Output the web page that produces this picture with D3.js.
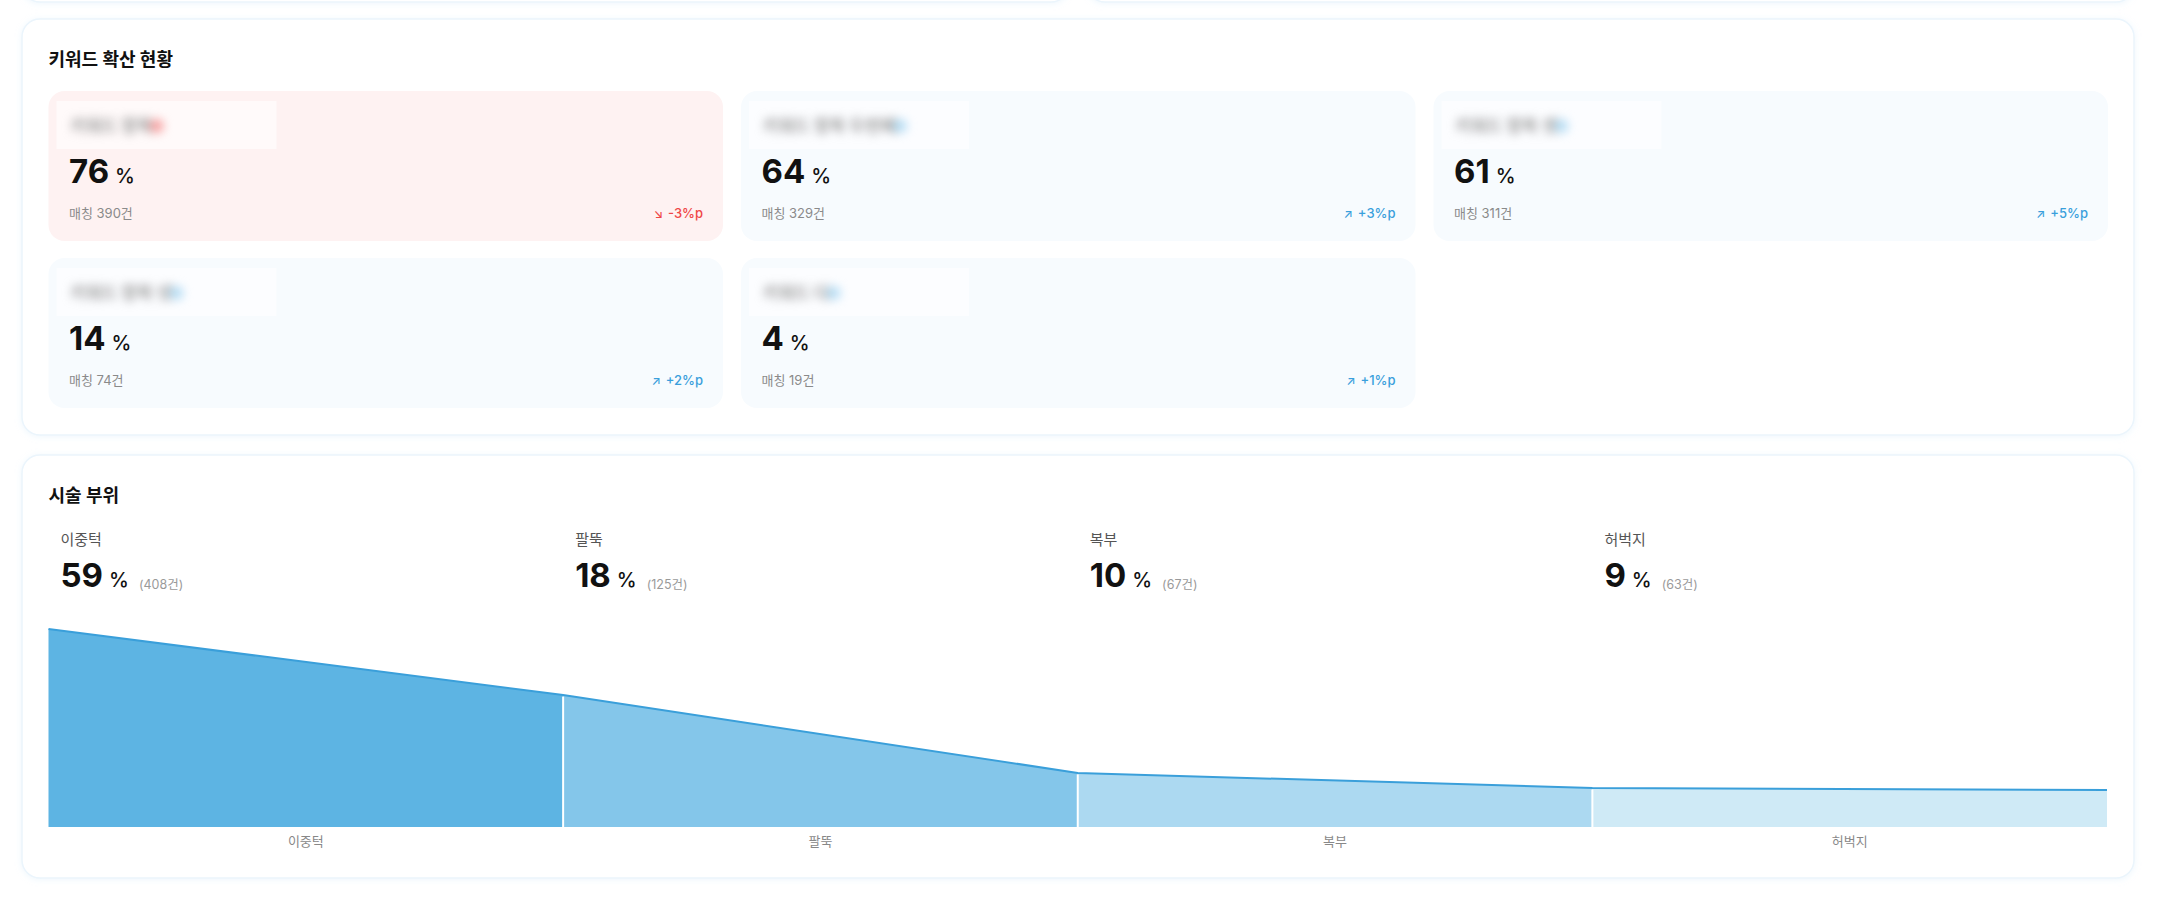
<!DOCTYPE html>
<html lang="ko">
<head>
  <meta charset="UTF-8">
  <title>키워드 확산 현황 / 시술 부위</title>
  <script src="https://d3js.org/d3.v7.min.js"></script>
  <style>
    html, body {
      margin: 0;
      padding: 0;
      background: #ffffff;
    }
    svg {
      display: block;
      font-family: Inter, "Noto Sans CJK KR", sans-serif;
    }
    .redacted {
      filter: blur(5px);
    }
  </style>
</head>
<body>
  <script>
    // keyword cards
    const keywordNames = ["키워드 항목", "키워드 항목 두번째", "키워드 항목 셋", "키워드 항목 넷", "키워드 다"];
    const keywordRates = [76, 64, 61, 14, 4];
    const keywordMatches = [390, 329, 311, 74, 19];
    const keywordDeltas = [-3, 3, 5, 2, 1];

    // treatment areas
    const areaNames = ["이중턱", "팔뚝", "복부", "허벅지"];
    const areaShares = [59, 18, 10, 9];
    const areaCounts = [408, 125, 67, 63];
    // height of the flow at each segment edge (same unit as the share)
    const flowLevels = [59, 39.3, 16.1, 11.6, 11.0];

    const areaFills = ["#5db4e3", "#84c6ea", "#acd9f1", "#cfeaf6"];
    const lineColor = "#3a9fda";
    const upColor = "#3a9fdc";
    const downColor = "#ef4747";

    const svg = d3.select("body").append("svg")
      .attr("width", 2160)
      .attr("height", 908);

    const defs = svg.append("defs");
    const shadow = defs.append("filter").attr("id", "shadow")
      .attr("x", "-5%").attr("y", "-10%").attr("width", "110%").attr("height", "120%");
    shadow.append("feDropShadow")
      .attr("dx", 0).attr("dy", 1).attr("stdDeviation", 3)
      .attr("flood-color", "#c4e2f7").attr("flood-opacity", 0.3);

    function panel(x, y, w, h) {
      svg.append("rect")
        .attr("x", x).attr("y", y)
        .attr("width", w).attr("height", h)
        .attr("rx", 18)
        .attr("fill", "#ffffff")
        .attr("stroke", "#ebf5fc")
        .attr("stroke-width", 1.5)
        .attr("filter", "url(#shadow)");
    }

    // bottoms of the panels above
    panel(22, -100, 1047, 102);
    panel(1087, -100, 1047, 102);

    // ---- 키워드 확산 현황 ----
    panel(22, 19, 2112, 416);
    svg.append("text")
      .attr("x", 48.5).attr("y", 66)
      .attr("font-size", 18).attr("font-weight", 700).attr("fill", "#111")
      .text("키워드 확산 현황");

    const cardW = 674.5, cardH = 150, gapX = 18, gapY = 17;
    const cardData = keywordRates.map((rate, i) => ({
      name: keywordNames[i],
      rate: rate,
      matches: keywordMatches[i],
      delta: keywordDeltas[i],
      x: 48.5 + (i % 3) * (cardW + gapX),
      y: 91 + Math.floor(i / 3) * (cardH + gapY)
    }));

    const cards = svg.selectAll(".kw-card")
      .data(cardData)
      .enter()
      .append("g")
      .attr("class", "kw-card")
      .attr("transform", d => `translate(${d.x},${d.y})`);

    cards.append("rect")
      .attr("width", cardW).attr("height", cardH)
      .attr("rx", 16)
      .attr("fill", (d, i) => i === 0 ? "#fef2f2" : "#f7fbfe");

    // redacted keyword label
    cards.append("rect")
      .attr("x", 8).attr("y", 10)
      .attr("width", 220).attr("height", 48)
      .attr("fill", "#ffffff").attr("opacity", 0.6);

    const blurred = cards.append("g").attr("class", "redacted");
    blurred.append("text")
      .attr("x", 22).attr("y", 41)
      .attr("font-size", 17).attr("font-weight", 700).attr("fill", "#9a9a9a")
      .text(d => d.name);
    blurred.append("circle")
      .attr("cx", function () { return 22 + this.parentNode.querySelector("text").getComputedTextLength() + 4; })
      .attr("cy", 35).attr("r", 7)
      .attr("fill", d => d.delta < 0 ? "#f7a3a3" : "#b8def5");

    const rateText = cards.append("text")
      .attr("x", 20.5).attr("y", 92)
      .attr("fill", "#111");
    rateText.append("tspan")
      .attr("font-size", 33).attr("font-weight", 700)
      .text(d => d.rate);
    rateText.append("tspan")
      .attr("dx", 6)
      .attr("font-size", 20).attr("font-weight", 500)
      .text("%");

    cards.append("text")
      .attr("x", 20.5).attr("y", 127)
      .attr("font-size", 13).attr("fill", "#8a8a8a")
      .text(d => `매칭 ${d.matches}건`);

    const deltaText = cards.append("text")
      .attr("x", cardW - 20).attr("y", 127)
      .attr("text-anchor", "end")
      .attr("font-size", 13).attr("font-weight", 500)
      .attr("fill", d => d.delta < 0 ? downColor : upColor);
    deltaText.append("tspan")
      .attr("font-size", 12)
      .text(d => d.delta < 0 ? "↘" : "↗");
    deltaText.append("tspan")
      .attr("dx", 5)
      .text(d => `${d.delta < 0 ? "-" : "+"}${Math.abs(d.delta)}%p`);

    // ---- 시술 부위 ----
    panel(22, 455, 2112, 423);
    svg.append("text")
      .attr("x", 48.5).attr("y", 502)
      .attr("font-size", 18).attr("font-weight", 700).attr("fill", "#111")
      .text("시술 부위");

    const chartLeft = 48.5, chartRight = 2107, chartBottom = 827;
    const band = d3.scaleBand().domain(areaNames).range([chartLeft, chartRight]);
    const x = d3.scaleLinear().domain([0, areaNames.length]).range([chartLeft, chartRight]);
    const y = d3.scaleLinear().domain([0, 60]).range([chartBottom, chartBottom - 201.4]);

    const heads = svg.selectAll(".area-head")
      .data(areaNames)
      .enter()
      .append("g")
      .attr("class", "area-head")
      .attr("transform", d => `translate(${band(d) + 12},0)`);

    heads.append("text")
      .attr("y", 545)
      .attr("font-size", 15).attr("fill", "#555")
      .text(d => d);

    const shareText = heads.append("text")
      .attr("y", 587)
      .attr("fill", "#111");
    shareText.append("tspan")
      .attr("font-size", 33).attr("font-weight", 700)
      .text((d, i) => areaShares[i]);
    shareText.append("tspan")
      .attr("dx", 6)
      .attr("font-size", 20).attr("font-weight", 500)
      .text("%");
    shareText.append("tspan")
      .attr("dx", 10)
      .attr("dy", 2)
      .attr("font-size", 12.5).attr("fill", "#9a9a9a")
      .text((d, i) => `(${areaCounts[i]}건)`);

    const area = d3.area()
      .x(d => x(d))
      .y0(y(0))
      .y1(d => y(flowLevels[d]));

    svg.selectAll(".segment")
      .data(areaNames.map((d, i) => [i, i + 1]))
      .enter()
      .append("path")
      .attr("class", "segment")
      .attr("d", area)
      .attr("fill", (d, i) => areaFills[i]);

    svg.selectAll(".divider")
      .data(d3.range(1, areaNames.length))
      .enter()
      .append("line")
      .attr("class", "divider")
      .attr("x1", d => x(d)).attr("x2", d => x(d))
      .attr("y1", y(0)).attr("y2", d => y(flowLevels[d]) + 1.5)
      .attr("stroke", "#ffffff").attr("stroke-width", 2);

    svg.append("path")
      .datum(flowLevels)
      .attr("d", d3.line().x((d, i) => x(i)).y(d => y(d)))
      .attr("fill", "none")
      .attr("stroke", lineColor)
      .attr("stroke-width", 2);

    const axis = svg.append("g")
      .attr("transform", `translate(0,${chartBottom})`)
      .call(d3.axisBottom(band).tickSize(0).tickPadding(10));
    axis.select(".domain").remove();
    axis.attr("font-family", null).attr("font-size", null);
    axis.selectAll("text")
      .attr("font-size", 13)
      .attr("fill", "#888");
  </script>
</body>
</html>
